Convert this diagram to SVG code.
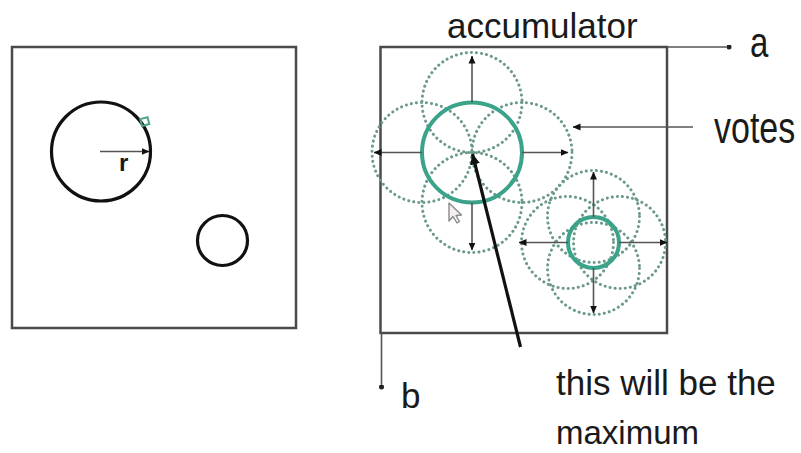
<svg xmlns="http://www.w3.org/2000/svg" width="801" height="453" viewBox="0 0 801 453">
<defs>
<style>
.box{fill:none;stroke:#4a4a4a;stroke-width:2.5}
.edge{fill:none;stroke:#111;stroke-width:3.2}
.acc{fill:none;stroke:#3aa389;stroke-width:4}
.vote{fill:none;stroke:#6b9a8c;stroke-width:3;stroke-dasharray:0.1 5;stroke-linecap:round}
.ax{fill:none;stroke:#555;stroke-width:1.6}
.lbl{font-family:"Liberation Sans",Arial,sans-serif;fill:#1a1a1a}
</style>
<marker id="ah" viewBox="0 0 8 8" refX="7.5" refY="4" markerWidth="8" markerHeight="8" markerUnits="userSpaceOnUse" orient="auto">
<path d="M0,0.5 L8,4 L0,7.5 z" fill="#111"/>
</marker>
<marker id="ahb" viewBox="0 0 10 10" refX="9.5" refY="5" markerWidth="11" markerHeight="11" markerUnits="userSpaceOnUse" orient="auto">
<path d="M0,0.5 L10,5 L0,9.5 z" fill="#111"/>
</marker>
<marker id="dot" viewBox="0 0 6 6" refX="3" refY="3" markerWidth="5" markerHeight="5" markerUnits="userSpaceOnUse">
<circle cx="3" cy="3" r="3" fill="#222"/>
</marker>
</defs>
<rect width="801" height="453" fill="#fff"/>

<g id="image-space">
<rect class="box" x="12" y="47" width="284" height="281"/>
<circle class="edge" cx="101" cy="151.5" r="49.5"/>
<circle class="edge" cx="222.5" cy="240.5" r="25"/>
<rect x="141" y="118" width="7.5" height="7" fill="none" stroke="#4fa58c" stroke-width="2" transform="rotate(-15 145 121.5)"/>
<line class="ax" x1="100" y1="151.5" x2="149" y2="151.5" stroke="#777" marker-end="url(#ah)"/>
<text class="lbl" x="119" y="171" font-size="24" font-weight="bold">r</text>
</g>

<g id="accumulator">
<rect class="box" x="380.5" y="47" width="286.5" height="286" stroke="#3c3c3c" stroke-width="2.2"/>
<g id="votes-large">
<circle class="vote" cx="472" cy="102.5" r="50"/>
<circle class="vote" cx="472" cy="202.5" r="50"/>
<circle class="vote" cx="422" cy="152.5" r="50"/>
<circle class="vote" cx="522" cy="152.5" r="50"/>
</g>
<g id="votes-small">
<circle class="vote" cx="593.5" cy="216.5" r="46"/>
<circle class="vote" cx="593.5" cy="268.5" r="46"/>
<circle class="vote" cx="567.5" cy="242.5" r="46"/>
<circle class="vote" cx="619.5" cy="242.5" r="46"/>
</g>
<circle class="acc" cx="472" cy="152.5" r="50"/>
<circle class="acc" cx="593.5" cy="242.5" r="25.5"/>
<path d="M449,203 L449,221 L453,216.5 L457,223 L459.5,221.5 L456,215.5 L461.5,215 Z" fill="#f6eef2" stroke="#8a8a8a" stroke-width="1.4" stroke-linejoin="round"/>
</g>

<g id="connectors">
<line class="ax" x1="472" y1="102.5" x2="472" y2="56" marker-end="url(#ah)"/>
<line class="ax" x1="472" y1="202.5" x2="472" y2="250" marker-end="url(#ah)"/>
<line class="ax" x1="422" y1="152.5" x2="374" y2="152.5" marker-end="url(#ah)"/>
<line class="ax" x1="522" y1="152.5" x2="568" y2="152.5" marker-end="url(#ah)"/>
<line class="ax" x1="593.5" y1="217" x2="593.5" y2="172" marker-end="url(#ah)"/>
<line class="ax" x1="593.5" y1="268" x2="593.5" y2="313" marker-end="url(#ah)"/>
<line class="ax" x1="568" y1="242.5" x2="519" y2="242.5" marker-end="url(#ah)"/>
<line class="ax" x1="619" y1="242.5" x2="667" y2="242.5" marker-end="url(#ah)"/>
<line class="ax" x1="693" y1="127" x2="573" y2="127" marker-end="url(#ah)"/>
<line class="ax" x1="667" y1="47" x2="729" y2="47" marker-end="url(#dot)"/>
<line class="ax" x1="381.5" y1="333" x2="381.5" y2="387" marker-end="url(#dot)"/>
<line x1="520.5" y1="347" x2="472.5" y2="154" stroke="#111" stroke-width="3.2" marker-end="url(#ahb)"/>
</g>

<g id="labels">
<text class="lbl" x="447" y="38" font-size="35">accumulator</text>
<text class="lbl" transform="translate(750,57) scale(1,1.29)" font-size="33">a</text>
<text class="lbl" transform="translate(714,143) scale(1,1.29)" font-size="34">votes</text>
<text class="lbl" x="401" y="408" font-size="35">b</text>
<text class="lbl" x="556" y="395" font-size="35">this will be the</text>
<text class="lbl" x="556" y="444" font-size="33">maximum</text>
</g>
</svg>
